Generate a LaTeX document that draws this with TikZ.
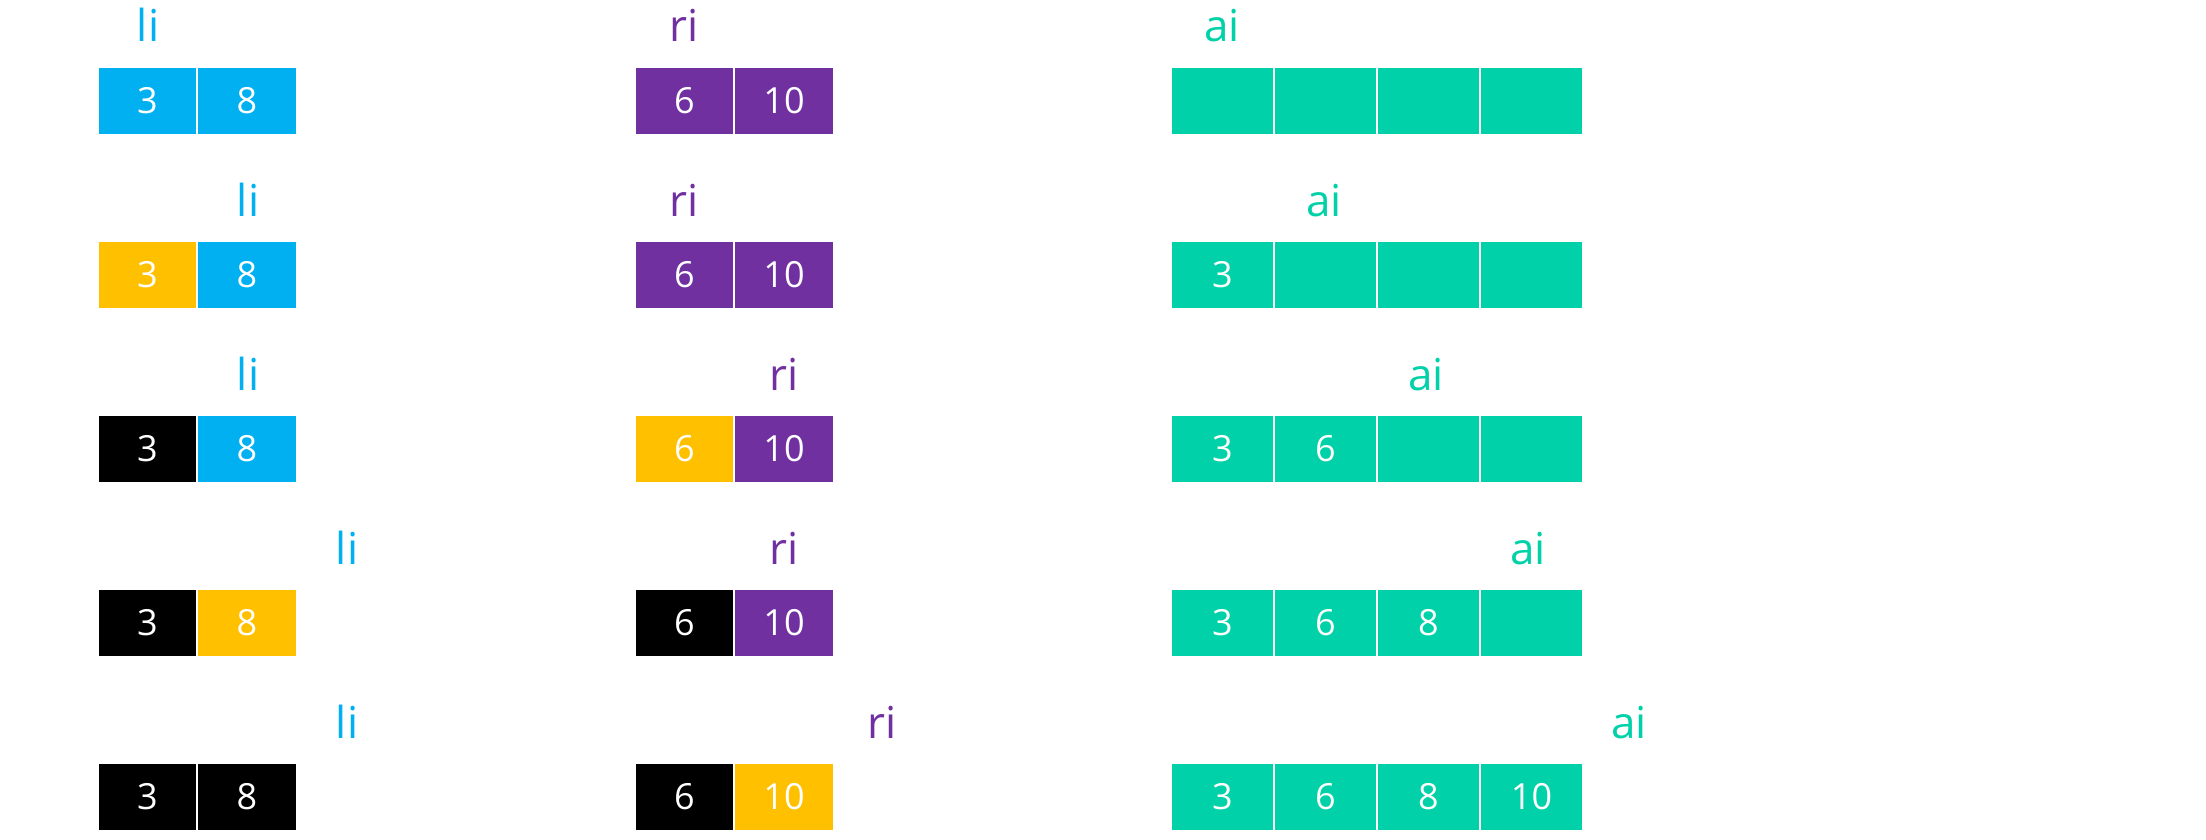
\documentclass[tikz,border=0pt]{standalone}
\usepackage{fontspec}
\setmainfont{Open Sans}
\definecolor{cblue}{HTML}{00B0F0}
\definecolor{cpurple}{HTML}{7030A0}
\definecolor{cgreen}{HTML}{00D1A8}
\definecolor{corange}{HTML}{FFC000}
\tikzset{
  cell/.style={minimum height=66pt, inner sep=0pt, outer sep=0pt, text=white, font=\fontsize{36}{40}\selectfont},
  small/.style={cell, minimum width=97.5pt},
  wide/.style={cell, minimum width=101pt, fill=cgreen},
  lbl/.style={anchor=base, inner sep=0pt, font=\fontsize{44}{50}\selectfont}
}
\begin{document}
\begin{tikzpicture}[x=1pt,y=-1pt]
\useasboundingbox (0,0) rectangle (2206,840);
\foreach \r/\y/\ca/\cb/\cc/\cd/\va/\vb/\vc/\vd/\li/\ri/\ai in {
  1/101/cblue/cblue/cpurple/cpurple/{}/{}/{}/{}/148/684/1222,
  2/275/corange/cblue/cpurple/cpurple/3/{}/{}/{}/248/684/1324,
  3/449/black/cblue/corange/cpurple/3/6/{}/{}/248/784/1426,
  4/623/black/corange/black/cpurple/3/6/8/{}/347/784/1528,
  5/797/black/black/black/corange/3/6/8/10/347/882/1629}
{
  \node[small, fill=\ca] (l\r a) at (147.5,\y) {3};
  \node[small, fill=\cb] (l\r b) at (247,\y) {8};
  \node[small, fill=\cc] (m\r a) at (684.5,\y) {6};
  \node[small, fill=\cd] (m\r b) at (784,\y) {10};
  \node[wide] (a\r a) at (1222.5,\y) {\va};
  \node[wide] (a\r b) at (1325.5,\y) {\vb};
  \node[wide] (a\r c) at (1428.5,\y) {\vc};
  \node[wide] (a\r d) at (1531.5,\y) {\vd};
  \node[lbl, text=cblue] (li\r) at (\li,\y-59) {li};
  \node[lbl, text=cpurple] (ri\r) at (\ri,\y-59) {ri};
  \node[lbl, text=cgreen] (ai\r) at (\ai,\y-59) {ai};
}
\end{tikzpicture}
\end{document}
